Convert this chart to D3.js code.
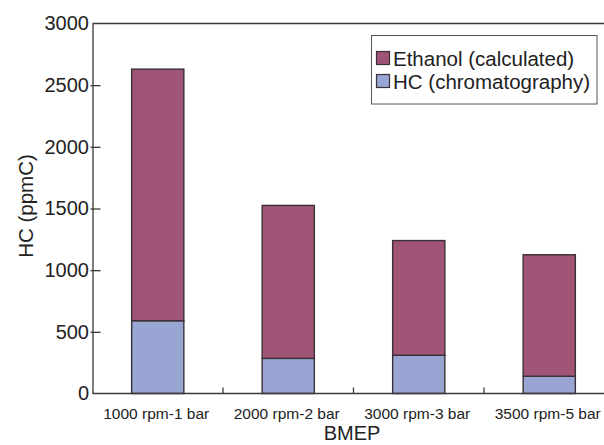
<!DOCTYPE html>
<html>
<head>
<meta charset="utf-8">
<script src="https://cdn.jsdelivr.net/npm/d3@7"></script>
<style>
  body { margin: 0; background: #fff; }
  text { font-family: "Liberation Sans", Arial, sans-serif; fill: #222; }
</style>
</head>
<body>
<div id="chart"></div>
<script>
// HC emissions per operating point, stacked: chromatography HC + calculated ethanol
const categories = ["1000 rpm-1 bar", "2000 rpm-2 bar", "3000 rpm-3 bar", "3500 rpm-5 bar"];
const hcChromatography = [590, 285, 310, 140];
const ethanolCalculated = [2040, 1240, 930, 985];
const yTicks = [0, 500, 1000, 1500, 2000, 2500, 3000];
const seriesNames = ["Ethanol (calculated)", "HC (chromatography)"];

const w = 604;
const h = 445;
const plotLeft = 92.5;
const plotTop = 23.5;
const plotBottom = 393.5;
const step = 130.5;
const plotRight = plotLeft + step * categories.length; // runs past the window edge, like the original

const colEthanol = "#a05577";
const colHC = "#99a5d3";
const edge = "#3b3036";
const axisCol = "#3a3a3a";

const svg = d3.select("#chart").append("svg")
  .attr("width", w)
  .attr("height", h)
  .style("display", "block");

const x = d3.scaleBand()
  .domain(categories)
  .range([plotLeft, plotRight])
  .paddingInner(0.6)
  .paddingOuter(0.3);

const y = d3.scaleLinear()
  .domain([0, 3000])
  .range([plotBottom, plotTop]);

// stacked data
const rows = categories.map((c, i) => ({ cat: c, hc: hcChromatography[i], eth: ethanolCalculated[i] }));
const stack = d3.stack().keys(["hc", "eth"])(rows);

// frame: top line
svg.append("line")
  .attr("x1", plotLeft).attr("x2", w)
  .attr("y1", plotTop).attr("y2", plotTop)
  .attr("stroke", axisCol).attr("stroke-width", 1.3);

// bars
const colors = { hc: colHC, eth: colEthanol };
stack.forEach((layer) => {
  svg.append("g")
    .selectAll("rect")
    .data(layer)
    .enter()
    .append("rect")
    .attr("x", (d) => x(d.data.cat))
    .attr("y", (d) => y(d[1]))
    .attr("width", x.bandwidth())
    .attr("height", (d) => y(d[0]) - y(d[1]))
    .attr("fill", colors[layer.key])
    .attr("stroke", edge)
    .attr("stroke-width", 1.4);
});

// y axis, ticks pointing inward
const yAxis = d3.axisLeft(y)
  .tickValues(yTicks)
  .tickFormat(d3.format("d"))
  .tickSizeInner(-8)
  .tickSizeOuter(0)
  .tickPadding(4);

const gy = svg.append("g")
  .attr("transform", `translate(${plotLeft},0)`)
  .call(yAxis);
gy.select(".domain").attr("stroke", axisCol).attr("stroke-width", 1.3);
gy.selectAll(".tick line").attr("stroke", axisCol).attr("stroke-width", 1.3).attr("x1", -2);
gy.selectAll(".tick").filter((d) => d === 3000 || d === 0).select("line").remove();
gy.selectAll(".tick text")
  .attr("x", -3.5)
  .style("font-size", "20px")
  .style("font-family", "'Liberation Sans', Arial, sans-serif")
  .attr("fill", "#222");

// x axis line with separator ticks between categories
svg.append("line")
  .attr("x1", plotLeft).attr("x2", w)
  .attr("y1", plotBottom).attr("y2", plotBottom)
  .attr("stroke", axisCol).attr("stroke-width", 1.3);

const seps = categories.slice(1).map((c) => x(c) - x.step() * x.paddingInner() / 2);
svg.append("g")
  .selectAll("line")
  .data(seps)
  .enter()
  .append("line")
  .attr("x1", (d) => d).attr("x2", (d) => d)
  .attr("y1", plotBottom).attr("y2", plotBottom - 6)
  .attr("stroke", axisCol).attr("stroke-width", 1.3);

// category labels
svg.append("g")
  .selectAll("text")
  .data(categories)
  .enter()
  .append("text")
  .attr("x", (d) => x(d) + x.bandwidth() / 2 - 1.5)
  .attr("y", 419)
  .attr("text-anchor", "middle")
  .style("font-size", "15.5px")
  .text((d) => d);

// axis titles
svg.append("text")
  .attr("x", 352)
  .attr("y", 440)
  .attr("text-anchor", "middle")
  .style("font-size", "20px")
  .text("BMEP");

svg.append("text")
  .attr("transform", `translate(33, 206) rotate(-90)`)
  .attr("text-anchor", "middle")
  .style("font-size", "20.5px")
  .text("HC (ppmC)");

// legend
const legend = svg.append("g");
legend.append("rect")
  .attr("x", 371.5).attr("y", 35.5)
  .attr("width", 225.5).attr("height", 68.5)
  .attr("fill", "#fff")
  .attr("stroke", "#555").attr("stroke-width", 1);

[colEthanol, colHC].forEach((c, i) => {
  const yy = 58 + i * 23;
  legend.append("rect")
    .attr("x", 376.5).attr("y", yy - 6.5)
    .attr("width", 13).attr("height", 13)
    .attr("fill", c)
    .attr("stroke", edge).attr("stroke-width", 1.2);
  legend.append("text")
    .attr("x", 393)
    .attr("y", yy + 7.5)
    .style("font-size", "20.5px")
    .text(seriesNames[i]);
});
</script>
</body>
</html>
